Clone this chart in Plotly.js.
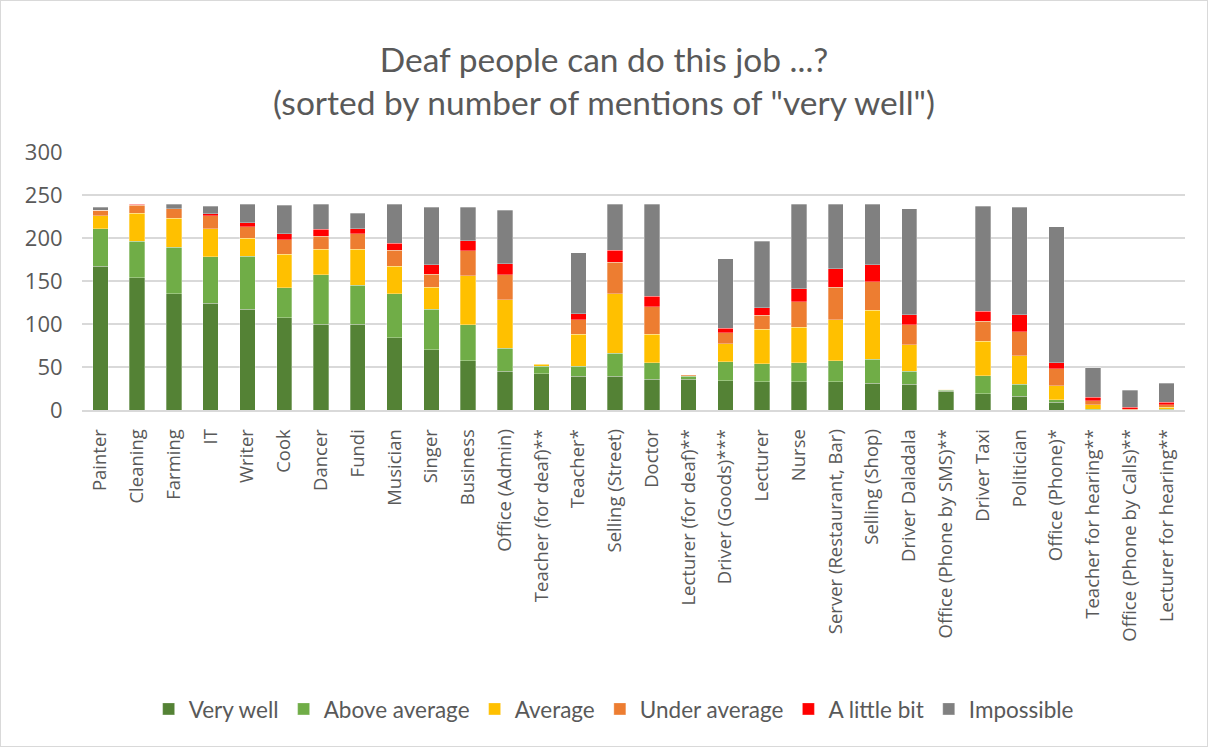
<!DOCTYPE html>
<html>
<head>
<meta charset="utf-8">
<script src="https://cdn.plot.ly/plotly-3.0.1.min.js"></script>
<style>
html,body{margin:0;padding:0;background:#fff;}
#wrap{width:1208px;height:747px;box-sizing:border-box;border:1px solid #d9d9d9;}
#chart{width:1206px;height:745px;}
</style>
</head>
<body>
<div id="wrap"><div id="chart"></div></div>
<script>
const categories = ["Painter","Cleaning","Farming","IT","Writer","Cook","Dancer","Fundi","Musician","Singer","Business","Office (Admin)","Teacher (for deaf)**","Teacher*","Selling (Street)","Doctor","Lecturer (for deaf)**","Driver (Goods)***","Lecturer","Nurse","Server (Restaurant, Bar)","Selling (Shop)","Driver Daladala","Office (Phone by SMS)**","Driver Taxi","Politician","Office (Phone)*","Teacher for hearing**","Office (Phone by Calls)**","Lecturer for hearing**"];

const veryWell     = [167,154,135,124,117,107,100,100,84,70,57,45,42,39,39,36,36,34,33,33,33,31,30,22,19,16,9,0,0,0];
const aboveAverage = [44,42,54,54,62,35,57,45,51,47,42,27,9,12,27,19,3,22,21,22,24,28,15,1,21,14,3,1,0,1];
const average      = [15,33,34,33,21,39,30,42,32,26,57,56,2,37,69,33,1,21,40,41,48,57,31,1,40,33,16,5,0,2];
const underAverage = [6,9,11,15,13,17,15,18,19,15,29,29,1,17,37,32,1,13,16,30,38,33,23,0,23,28,20,5,1,3];
const aLittleBit   = [0,1,0,2,5,7,8,6,8,11,12,13,0,7,14,12,0,5,9,15,21,20,12,0,12,20,7,4,2,3];
const impossible   = [4,0,5,9,21,33,29,18,45,67,39,62,0,71,53,107,0,81,77,98,75,70,123,0,122,125,158,34,20,22];

const seriesNames  = ["Very well","Above average","Average","Under average","A little bit","Impossible"];
const seriesValues = [veryWell, aboveAverage, average, underAverage, aLittleBit, impossible];
const seriesColors = ["#548235","#70AD47","#FFC000","#ED7D31","#FF0000","#808080"];

const traces = seriesNames.map((name, i) => ({
  type: 'bar',
  name: name,
  x: categories,
  y: seriesValues[i],
  marker: {color: seriesColors[i], line: {color: 'rgba(255,255,255,0.5)', width: 0.6}},
  hoverinfo: 'x+y+name'
}));

const layout = {
  width: 1206, height: 745,
  barmode: 'stack',
  bargap: 0.58,
  paper_bgcolor: '#fff', plot_bgcolor: '#fff',
  font: {family: 'Open Sans', size: 18, color: '#595959'},
  title: {
    text: 'Deaf people can do this job ...?<br>(sorted by number of mentions of "very well")',
    font: {family: 'Lato', size: 33.5, color: '#595959'},
    x: 0.5, xanchor: 'center', yref: 'container', y: 0.905, yanchor: 'top'
  },
  margin: {l: 81, r: 22, t: 151, b: 336, pad: 0},
  xaxis: {
    type: 'category',
    tickangle: -90,
    tickfont: {family: 'Open Sans', size: 18.5, color: '#595959'},
    showgrid: false, showline: true, linecolor: '#d9d9d9', linewidth: 1.5,
    ticks: 'outside', ticklen: 10, tickcolor: 'rgba(0,0,0,0)', automargin: false
  },
  yaxis: {
    range: [0, 300], dtick: 50, tick0: 0,
    showgrid: true, gridcolor: '#d9d9d9', gridwidth: 1.5,
    zeroline: false, showline: false,
    tickfont: {family: 'Open Sans', size: 22, color: '#595959'},
    ticks: 'outside', ticklen: 14, tickcolor: 'rgba(0,0,0,0)',
    automargin: false
  },
  legend: {
    orientation: 'h', x: 0.482, xanchor: 'center', y: -1.16, yanchor: 'middle',
    font: {family: 'Lato', size: 22.5, color: '#595959'},
    traceorder: 'normal', itemwidth: 30
  },
  showlegend: true
};

Plotly.newPlot('chart', traces, layout, {displayModeBar: false, staticPlot: false});
</script>
</body>
</html>
